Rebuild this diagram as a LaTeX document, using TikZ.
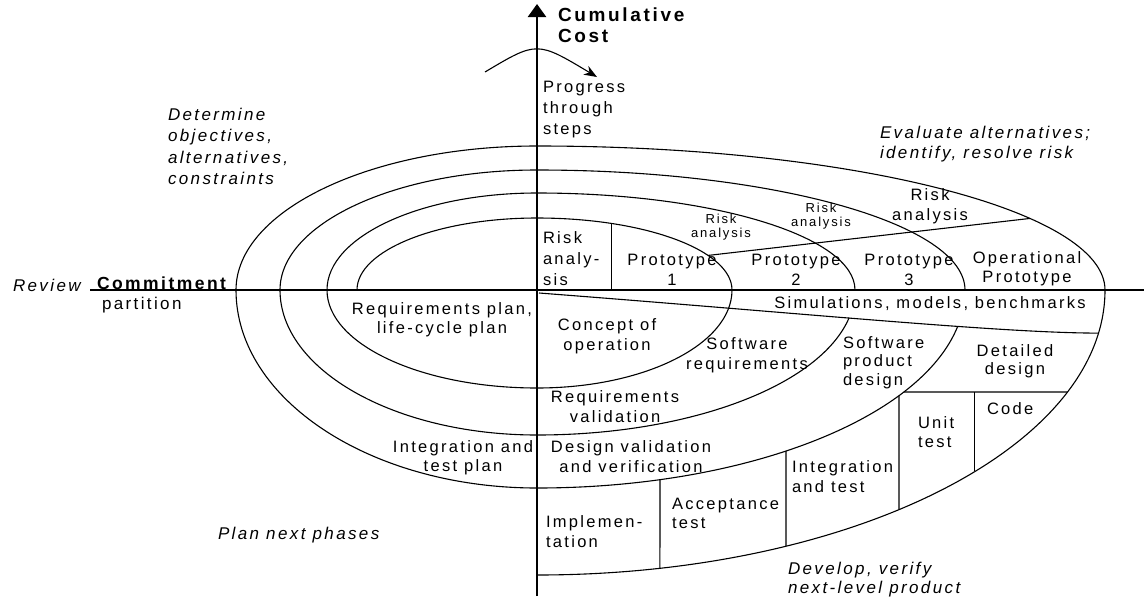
\documentclass[tikz,border=0pt]{standalone}
\usepackage{fontspec}
\setmainfont{Liberation Sans}[LetterSpace=14]
\usetikzlibrary{arrows.meta}

\begin{document}
\begin{tikzpicture}[x=1pt,y=-1pt,
  every node/.style={inner sep=0pt,outer sep=0pt},
  txt/.style={font=\fontsize{16.5}{20.5}\selectfont,align=center,anchor=base},
  txtl/.style={txt,align=left,anchor=base west},
  quad/.style={font=\itshape\fontsize{17}{21.5}\selectfont,align=left,anchor=base west},
  smalltxt/.style={font=\fontsize{13}{14.5}\selectfont,align=center,anchor=base},
  spiral/.style={line width=1.1pt,line join=round},
  edge/.style={line width=1.1pt},
  axisline/.style={line width=2.4pt},
]
\useasboundingbox (0,0) rectangle (1144,598);
\fill[white] (0,0) rectangle (1144,598);

% ---------- axes ----------
\coordinate (O) at (537,290);
\coordinate (xstart) at (90,290);
\coordinate (xend) at (1144,290);
\coordinate (ybottom) at (537,596);
\coordinate (ytop) at (537,4);
\draw[axisline] (xstart) -- (xend);
\draw[axisline,-{Triangle[width=18pt,length=13pt]}] (ybottom) -- (ytop);

% ---------- spiral (quarter ellipses around O) ----------
\draw[spiral] (357,290)
  arc[start angle=180,end angle=270,x radius=180,y radius=72]
  arc[start angle=270,end angle=360,x radius=195,y radius=72]
  arc[start angle=0,end angle=90,x radius=195,y radius=98]
  arc[start angle=90,end angle=180,x radius=210,y radius=98]
  arc[start angle=180,end angle=270,x radius=210,y radius=97]
  arc[start angle=270,end angle=360,x radius=318,y radius=97];
\draw[spiral] ({537+318*cos(11)},{290+145*sin(11)})
  arc[start angle=11,end angle=90,x radius=318,y radius=145]
  arc[start angle=90,end angle=180,x radius=257,y radius=145]
  arc[start angle=180,end angle=270,x radius=257,y radius=120]
  arc[start angle=270,end angle=360,x radius=428,y radius=120];
\draw[spiral] ({537+428*cos(10.6)},{290+198*sin(10.6)})
  arc[start angle=10.6,end angle=90,x radius=428,y radius=198]
  arc[start angle=90,end angle=180,x radius=301,y radius=198]
  arc[start angle=180,end angle=270,x radius=301,y radius=144]
  arc[start angle=270,end angle=360,x radius=568,y radius=144]
  arc[start angle=0,end angle=90,x radius=568,y radius=285];

% ---------- progress arrow ----------
\coordinate (pa) at (485,72);
\coordinate (pb) at (597,77);
\draw[edge,-{Stealth[length=13pt,width=10pt]}] (pa) .. controls (537,41) .. (pb);

% ---------- upper right: risk box and prototype tops ----------
\coordinate (rb) at ({537+195*cos(292.6)},{290+72*sin(292.6)});
\draw[edge] (rb) -- (rb |- O);
\coordinate (r0) at ({537+195*cos(331.3)},{290+72*sin(331.3)});
\coordinate (r1) at ({537+568*cos(330.2)},{290+144*sin(330.2)});
\draw[edge] (r0) -- (r1);

% ---------- lower right: simulations band and boxes ----------
\coordinate (s0) at (539,293);
\coordinate (s1) at ({537+568*cos(8.7)},{290+285*sin(8.7)});
\draw[edge] (s0) .. controls (800,313) and (1000,333) .. (s1);

\coordinate (d0) at ({537+428*cos(31.0)},{290+198*sin(31.0)});
\coordinate (d1) at ({537+568*cos(20.97)},{290+285*sin(20.97)});
\draw[edge] (d0) -- (d1);

\coordinate (u0) at ({537+428*cos(32.24)},{290+198*sin(32.24)});
\coordinate (u1) at ({537+568*cos(50.41)},{290+285*sin(50.41)});
\draw[edge] (u0) -- (u1);
\coordinate (u2) at ({537+568*cos(39.55)},{290+285*sin(39.55)});
\draw[edge] (u2) -- (u2 |- d0);

\coordinate (i0) at ({537+428*cos(54.42)},{290+198*sin(54.42)});
\coordinate (i1) at ({537+568*cos(64.0)},{290+285*sin(64.0)});
\draw[edge] (i0) -- (i1);

\coordinate (a0) at ({537+428*cos(73.3)},{290+198*sin(73.3)});
\coordinate (a1) at ({537+568*cos(77.5)},{290+285*sin(77.5)});
\draw[edge] (a0) -- (a1);

% ---------- labels (anchored on the baseline of their last line) ----------
\node[txtl,font=\bfseries\fontsize{19}{21}\selectfont] (cost) at (558,42.5) {Cumulative\\Cost};
\node[txtl,font=\fontsize{16.5}{21}\selectfont] (progress) at (543,134) {Progress\\through\\steps};

\node[quad] (determine) at (168,184.5) {Determine\\objectives,\\alternatives,\\constraints};
\node[quad,font=\itshape\fontsize{17}{20}\selectfont] (evaluate) at (880,158) {Evaluate alternatives;\\identify, resolve risk};
\node[quad] (plannext) at (218,539) {Plan next phases};
\node[quad,font=\itshape\fontsize{17}{19.5}\selectfont] (develop) at (788,593.5) {Develop, verify\\next-level product};

\node[quad] (review) at (13,291) {Review};
\node[anchor=base west,font=\bfseries\fontsize{17.5}{20}\selectfont] (commit) at (97,289) {Commitment};
\node[anchor=base west,font=\fontsize{17}{20}\selectfont] (partition) at (102,309) {partition};

\node[txtl,font=\fontsize{16.5}{21}\selectfont] (riskbox) at (543,285) {Risk\\analy-\\sis};
\node[txt] (proto1) at (672,285.5) {Prototype\\1};
\node[txt] (proto2) at (796,285.5) {Prototype\\2};
\node[txt] (proto3) at (909,285.5) {Prototype\\3};
\node[txt,font=\fontsize{16.5}{19.5}\selectfont] (protoop) at (1027,282.5) {Operational\\Prototype};
\node[smalltxt] (riskA) at (721,237.5) {Risk\\analysis};
\node[smalltxt] (riskB) at (821,226.5) {Risk\\analysis};
\node[txt,font=\fontsize{16.5}{20}\selectfont] (riskC) at (930,220) {Risk\\analysis};

\node[txt,font=\fontsize{16.5}{19}\selectfont] (reqplan) at (442,333) {Requirements plan,\\life-cycle plan};
\node[txt,font=\fontsize{16.5}{19}\selectfont] (itplan) at (463,471) {Integration and\\test plan};

\node[txt] (sims) at (930,308) {Simulations, models, benchmarks};
\node[txt,font=\fontsize{16.5}{20}\selectfont] (concept) at (607,350) {Concept of\\operation};
\node[txt,font=\fontsize{16.5}{20}\selectfont] (swreq) at (747,369) {Software\\requirements};
\node[txt,font=\fontsize{16.5}{20}\selectfont] (reqval) at (615,422) {Requirements\\validation};
\node[txtl,font=\fontsize{16.5}{18.5}\selectfont] (swprod) at (843,385) {Software\\product\\design};
\node[txt,font=\fontsize{16.5}{18}\selectfont] (detdes) at (1015,374) {Detailed\\design};
\node[txtl] (code) at (987,414) {Code};
\node[txtl,font=\fontsize{16.5}{19}\selectfont] (unittest) at (918,447) {Unit\\test};
\node[txtl,font=\fontsize{16.5}{20}\selectfont] (inttest) at (792,492) {Integration\\and test};
\node[txt,font=\fontsize{16.5}{20}\selectfont] (desval) at (631,472) {Design validation\\and verification};
\node[txtl,font=\fontsize{16.5}{19}\selectfont] (acctest) at (672,528) {Acceptance\\test};
\node[txtl,font=\fontsize{16.5}{20}\selectfont] (impl) at (546,547) {Implemen-\\tation};
\end{tikzpicture}
\end{document}
